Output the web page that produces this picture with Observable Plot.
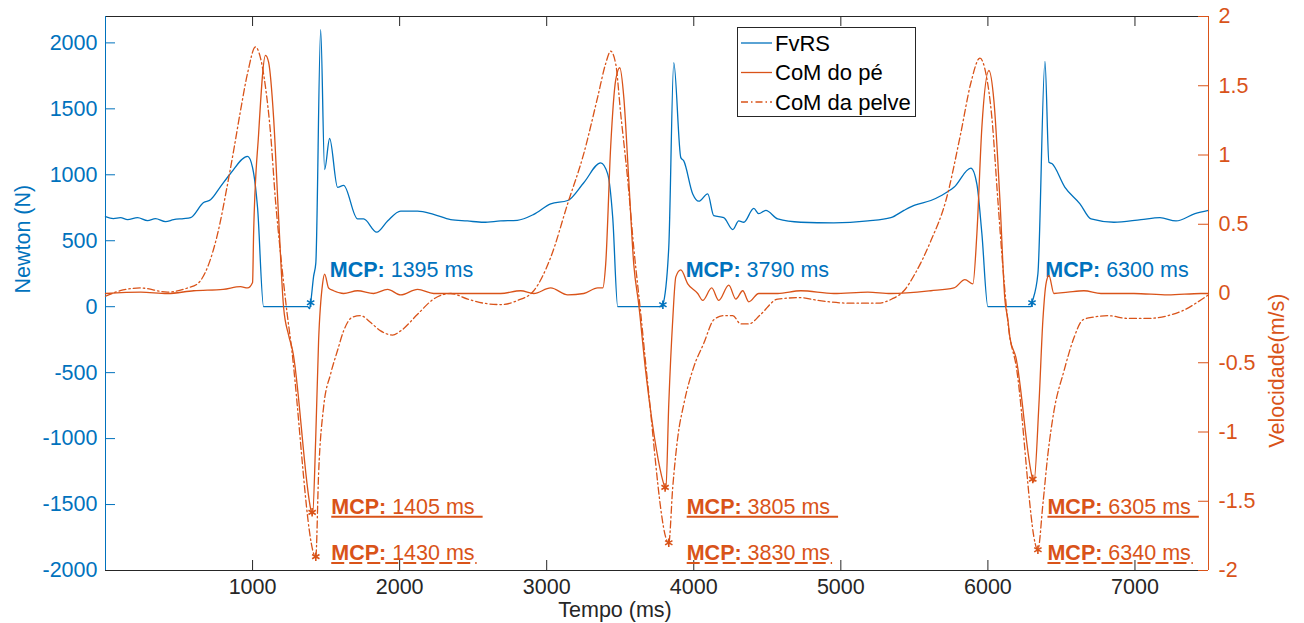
<!DOCTYPE html>
<html><head><meta charset="utf-8">
<script src="https://cdn.jsdelivr.net/npm/d3@7"></script>
<script src="https://cdn.jsdelivr.net/npm/@observablehq/plot@0.6"></script>
<style>
body{margin:0;background:#fff;}
#chart{position:relative;width:1304px;height:623px;}
#chart svg{position:absolute;left:0;top:0;}
</style></head><body><div id="chart"></div>
<script>
// ---------- data ----------
const xTicks = [1000, 2000, 3000, 4000, 5000, 6000, 7000];
const forceTicks = [-2000, -1500, -1000, -500, 0, 500, 1000, 1500, 2000];
const velTicks = [-2, -1.5, -1, -0.5, 0, 0.5, 1, 1.5, 2];
const xDomain = [0, 7500];
const forceDomain = [-2000, 2200];
const velDomain = [-2, 2];
const seriesNames = ["FvRS", "CoM do pé", "CoM da pelve"];
const xTitle = "Tempo (ms)", leftTitle = "Newton (N)", rightTitle = "Velocidade(m/s)";

// FvRS [time ms, Newton]
const fvrs = [[0,683],[54,668],[102,675],[150,660],[218,675],[286,653],[340,668],[408,645],[463,660],[531,668],[578,675],[667,790],[714,810],[782,910],[850,1010],[966,1140],[1000,1055],[1034,750],[1075,0],[1374,0],[1388,-15],[1395,30],[1415,230],[1430,330],[1463,2100],[1490,1040],[1524,1275],[1578,905],[1619,920],[1714,665],[1755,665],[1844,565],[1918,650],[2007,725],[2122,725],[2231,700],[2347,660],[2460,650],[2570,640],[2687,650],[2800,655],[2912,700],[3027,780],[3143,805],[3252,940],[3367,1090],[3415,1005],[3449,675],[3483,0],[3782,0],[3790,15],[3830,450],[3864,1850],[3912,1130],[3932,1105],[3993,855],[4034,800],[4095,855],[4136,690],[4204,675],[4265,585],[4306,650],[4340,640],[4408,745],[4442,705],[4490,730],[4571,665],[4728,640],[4952,635],[5184,650],[5340,675],[5429,730],[5503,770],[5612,805],[5687,845],[5769,905],[5884,1050],[5925,930],[5959,555],[6000,0],[6293,0],[6300,30],[6340,250],[6388,1860],[6415,1095],[6435,1085],[6524,905],[6626,780],[6701,665],[6857,640],[7041,660],[7170,675],[7279,650],[7408,705],[7500,730]];

// CoM do pé [time ms, m/s]
const foot = [[0,0],[240,0.01],[420,0],[600,0.02],[800,0.03],[918,0.05],[966,0.04],[1000,0.08],[1007,0.43],[1041,1.15],[1088,1.72],[1109,1.67],[1143,1.27],[1177,0.55],[1211,-0.1],[1245,-0.30],[1272,-0.41],[1401,-1.58],[1408,-1.60],[1429,-1.06],[1449,-0.34],[1476,0.07],[1490,0.14],[1517,0.04],[1551,0.02],[1619,0],[1714,0.02],[1823,0],[1918,0.03],[2007,-0.01],[2122,0.03],[2231,0],[2463,0],[2687,0],[2823,0.02],[2912,0],[3027,0.04],[3143,-0.01],[3252,0],[3347,0.04],[3381,0.04],[3401,0.21],[3435,1.06],[3469,1.54],[3497,1.63],[3524,1.42],[3558,0.82],[3592,0.21],[3626,-0.08],[3673,-0.56],[3707,-0.85],[3803,-1.40],[3810,-1.42],[3830,-0.80],[3857,-0.19],[3878,0.12],[3912,0.17],[3959,0.07],[4027,0],[4061,-0.05],[4122,0.04],[4170,-0.05],[4238,0.06],[4286,-0.04],[4333,0.02],[4374,-0.06],[4442,0],[4571,0],[4728,0.02],[4952,0],[5184,0.01],[5340,0],[5612,0.02],[5769,0.04],[5844,0.1],[5898,0.07],[5925,0.43],[5959,1.2],[6007,1.61],[6041,1.39],[6082,0.67],[6116,-0.05],[6136,-0.19],[6150,-0.32],[6190,-0.46],[6305,-1.34],[6313,-1.36],[6347,-0.8],[6374,-0.19],[6395,0.07],[6415,0.13],[6449,0],[6544,0.01],[6653,0.02],[6769,0],[6993,0],[7224,-0.01],[7449,0],[7500,0]];

// CoM da pelve [time ms, m/s]
const pelvis = [[0,-0.02],[100,0.02],[238,0.04],[422,0.01],[558,0.04],[626,0.07],[694,0.19],[762,0.43],[830,0.79],[871,1.03],[918,1.32],[966,1.59],[1020,1.78],[1054,1.70],[1088,1.49],[1122,1.16],[1156,0.67],[1190,0.29],[1238,-0.17],[1259,-0.34],[1430,-1.90],[1449,-1.30],[1483,-0.82],[1531,-0.58],[1578,-0.41],[1619,-0.27],[1680,-0.17],[1735,-0.16],[1803,-0.21],[1871,-0.27],[1952,-0.30],[2007,-0.27],[2122,-0.15],[2231,-0.04],[2347,0],[2463,-0.04],[2571,-0.07],[2687,-0.08],[2803,-0.05],[2912,0.02],[3027,0.26],[3143,0.65],[3252,1.01],[3347,1.42],[3401,1.66],[3435,1.75],[3469,1.66],[3503,1.30],[3551,0.82],[3592,0.33],[3639,-0.14],[3687,-0.65],[3830,-1.80],[3857,-1.40],[3891,-1.04],[3932,-0.80],[4000,-0.53],[4068,-0.36],[4136,-0.19],[4204,-0.16],[4265,-0.16],[4320,-0.22],[4374,-0.22],[4456,-0.15],[4571,-0.04],[4728,-0.03],[4844,-0.05],[5068,-0.07],[5252,-0.07],[5347,-0.04],[5429,0.02],[5503,0.14],[5612,0.38],[5714,0.67],[5816,1.16],[5884,1.52],[5946,1.70],[5986,1.59],[6027,1.27],[6068,0.67],[6102,0.19],[6143,-0.27],[6190,-0.51],[6340,-1.85],[6374,-1.52],[6408,-1.16],[6449,-0.85],[6517,-0.56],[6585,-0.32],[6646,-0.19],[6721,-0.17],[6816,-0.16],[6952,-0.18],[7088,-0.18],[7224,-0.16],[7333,-0.12],[7429,-0.06],[7500,-0.01]];

// MCP events
const mcpForceT = [1395, 3790, 6300];
const mcpForceN = [30, 15, 30];
const mcpFootT = [1405, 3805, 6305];
const mcpFootV = [-1.58, -1.40, -1.34];
const mcpPelvisT = [1430, 3830, 6340];
const mcpPelvisV = [-1.90, -1.80, -1.85];

// annotation anchors (label left edge in ms, label row)
const forceLabelT = [1525, 3945, 6390];
const forceLabelN = 277;
const velLabelT = [1535, 3952, 6405];
const footLabelV = -1.54;
const pelvisLabelV = -1.875;

// ---------- layout / style ----------
const W = 1304, H = 623;
const M = {top: 16, right: 96, bottom: 53, left: 105};
const frameW = W - M.left - M.right, frameH = H - M.top - M.bottom;
const BLUE = "#0072BD", ORANGE = "#D95319", GRAY = "#262626";
const FONT = '"Liberation Sans", Arial, Helvetica, sans-serif';
const FS = 21.5, TICK = 10;

const base = {
  width: W, height: H,
  marginTop: M.top, marginRight: M.right, marginBottom: M.bottom, marginLeft: M.left,
  style: {fontFamily: FONT, fontSize: FS + "px", background: "transparent", overflow: "visible"}
};

const idx = [0, 1, 2];

const p1 = Plot.plot({
  ...base,
  x: {domain: xDomain},
  y: {domain: forceDomain},
  marks: [
    Plot.axisX(xTicks, {anchor: "bottom", tickSize: 0, tickPadding: 8, tickFormat: d => String(d), fill: GRAY, label: null}),
    Plot.axisY(forceTicks, {anchor: "left", tickSize: 0, tickPadding: 8, tickFormat: d => String(d), fill: BLUE, label: null}),
    Plot.tickX(xTicks, {x: d => d, insetTop: frameH - TICK, stroke: GRAY}),
    Plot.tickX(xTicks, {x: d => d, insetBottom: frameH - TICK, stroke: GRAY}),
    Plot.tickY(forceTicks, {y: d => d, insetRight: frameW - TICK, stroke: BLUE}),
    Plot.ruleY([forceDomain[0]], {stroke: GRAY}),
    Plot.ruleY([forceDomain[1]], {stroke: GRAY}),
    Plot.ruleX([xDomain[0]], {stroke: BLUE}),
    Plot.line(fvrs, {x: d => d[0], y: d => d[1], stroke: BLUE, strokeWidth: 1.3, curve: "monotone-x"}),
    Plot.dot(idx, {x: i => mcpForceT[i], y: i => mcpForceN[i], symbol: "asterisk", r: 4, stroke: BLUE, strokeWidth: 1.6}),
    Plot.text(idx, {x: i => forceLabelT[i], y: forceLabelN, text: i => `MCP: ${mcpForceT[i]} ms`, textAnchor: "start", lineAnchor: "middle", fill: BLUE, fontSize: FS, ariaDescription: "mcp-force"}),
    Plot.text([leftTitle], {text: d => d, frameAnchor: "left", rotate: -90, dx: -82, fill: BLUE, fontSize: FS, lineAnchor: "middle"}),
    Plot.text([xTitle], {text: d => d, frameAnchor: "bottom", dx: -42, dy: 40, fill: GRAY, fontSize: FS, lineAnchor: "middle"})
  ]
});
p1.style.background = "#fff";

const p2 = Plot.plot({
  ...base,
  x: {domain: xDomain, axis: null},
  y: {domain: velDomain},
  marks: [
    Plot.axisY(velTicks, {anchor: "right", tickSize: 0, tickPadding: 10, tickFormat: d => String(d), fill: ORANGE, label: null}),
    Plot.tickY(velTicks, {y: d => d, insetLeft: frameW - TICK, stroke: ORANGE}),
    Plot.ruleX([xDomain[1]], {stroke: ORANGE}),
    Plot.line(foot, {x: d => d[0], y: d => d[1], stroke: ORANGE, strokeWidth: 1.3, curve: "monotone-x"}),
    Plot.line(pelvis, {x: d => d[0], y: d => d[1], stroke: ORANGE, strokeWidth: 1.3, strokeDasharray: "7,3,1.5,3", curve: "monotone-x"}),
    Plot.dot(idx, {x: i => mcpFootT[i], y: i => mcpFootV[i], symbol: "asterisk", r: 4, stroke: ORANGE, strokeWidth: 1.6}),
    Plot.dot(idx, {x: i => mcpPelvisT[i], y: i => mcpPelvisV[i], symbol: "asterisk", r: 4, stroke: ORANGE, strokeWidth: 1.6}),
    Plot.text(idx, {x: i => velLabelT[i], y: footLabelV, text: i => `MCP: ${mcpFootT[i]} ms`, textAnchor: "start", lineAnchor: "middle", fill: ORANGE, fontSize: FS, ariaDescription: "mcp-foot"}),
    Plot.text(idx, {x: i => velLabelT[i], y: pelvisLabelV, text: i => `MCP: ${mcpPelvisT[i]} ms`, textAnchor: "start", lineAnchor: "middle", fill: ORANGE, fontSize: FS, ariaDescription: "mcp-pelvis"}),
    Plot.text([rightTitle], {text: d => d, frameAnchor: "right", rotate: -90, dx: 69, fill: ORANGE, fontSize: FS, lineAnchor: "middle"})
  ]
});

const chart = document.getElementById("chart");
chart.appendChild(p1);
chart.appendChild(p2);

// bold "MCP:" prefix
function boldPrefix(svg, tag) {
  d3.select(svg).selectAll(`g[aria-description="${tag}"] text`).each(function () {
    const s = this.textContent, k = s.indexOf(":") + 1;
    const t = d3.select(this);
    t.text(null);
    t.append("tspan").attr("font-weight", "bold").text(s.slice(0, k));
    t.append("tspan").text(s.slice(k));
  });
}
boldPrefix(p1, "mcp-force");
boldPrefix(p2, "mcp-foot");
boldPrefix(p2, "mcp-pelvis");

// underline the velocity labels
function underline(svg, tag, dash, extra) {
  d3.select(svg).selectAll(`g[aria-description="${tag}"] text`).each(function () {
    const b = this.getBBox();
    d3.select(this.parentNode).append("line")
      .attr("transform", this.getAttribute("transform"))
      .attr("x1", b.x).attr("x2", b.x + b.width + extra)
      .attr("y1", b.y + b.height - 2).attr("y2", b.y + b.height - 2)
      .attr("stroke", ORANGE).attr("stroke-width", 2)
      .attr("stroke-dasharray", dash);
  });
}
underline(p2, "mcp-foot", null, 8);
underline(p2, "mcp-pelvis", "13,5", 2);

// legend
const lg = d3.select(p2).append("g")
  .attr("font-family", FONT).attr("font-size", 22).attr("text-anchor", "start");
lg.append("rect").attr("x", 737.5).attr("y", 27.5).attr("width", 178).attr("height", 89)
  .attr("fill", "#fff").attr("stroke", GRAY).attr("stroke-width", 1);
const legendStroke = [BLUE, ORANGE, ORANGE];
const legendDash = [null, null, "7,3,1.5,3"];
seriesNames.forEach((name, i) => {
  const y = 43 + i * 29.5;
  lg.append("line").attr("x1", 741).attr("x2", 772).attr("y1", y).attr("y2", y)
    .attr("stroke", legendStroke[i]).attr("stroke-width", 1.3).attr("stroke-dasharray", legendDash[i]);
  lg.append("text").attr("x", 775).attr("y", y).attr("dy", "0.35em")
    .attr("text-anchor", "start").attr("fill", "#000").text(name);
});
</script></body></html>
